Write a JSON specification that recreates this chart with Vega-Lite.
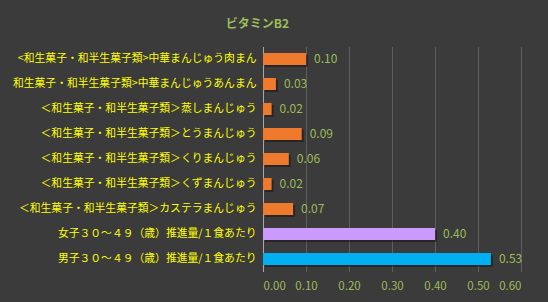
{
  "$schema": "https://vega.github.io/schema/vega-lite/v6.json",
  "width": 258,
  "height": 225,
  "autosize": {"type": "none"},
  "padding": {"left": 263, "top": 46.5, "right": 27, "bottom": 30.5},
  "background": "#3b3b3b",
  "title": {
    "text": "ビタミンB2",
    "color": "#9bbb59",
    "fontSize": 12,
    "font": "Noto Sans CJK JP",
    "fontWeight": "bold",
    "anchor": "middle",
    "frame": "bounds",
    "offset": 16,
    "dx": -10
  },
  "data": {
    "values": [
      {"label": "<和生菓子・和半生菓子類>中華まんじゅう肉まん", "value": 0.10, "group": "food"},
      {"label": "和生菓子・和半生菓子類>中華まんじゅうあんまん", "value": 0.03, "group": "food"},
      {"label": "＜和生菓子・和半生菓子類＞蒸しまんじゅう", "value": 0.02, "group": "food"},
      {"label": "＜和生菓子・和半生菓子類＞とうまんじゅう", "value": 0.09, "group": "food"},
      {"label": "＜和生菓子・和半生菓子類＞くりまんじゅう", "value": 0.06, "group": "food"},
      {"label": "＜和生菓子・和半生菓子類＞くずまんじゅう", "value": 0.02, "group": "food"},
      {"label": "＜和生菓子・和半生菓子類＞カステラまんじゅう", "value": 0.07, "group": "food"},
      {"label": "女子３０～４９（歳）推進量/１食あたり", "value": 0.40, "group": "female"},
      {"label": "男子３０～４９（歳）推進量/１食あたり", "value": 0.53, "group": "male"}
    ]
  },
  "encoding": {
    "y": {
      "field": "label",
      "type": "nominal",
      "sort": null,
      "scale": {"paddingInner": 0.52, "paddingOuter": 0.26},
      "axis": {
        "title": null,
        "labelColor": "#ffff00",
        "labelFont": "Noto Sans CJK JP",
        "labelFontSize": 10.8,
        "labelLimit": 0,
        "labelPadding": 7,
        "ticks": false,
        "domainColor": "#a6a6a6",
        "domainWidth": 1,
        "grid": false
      }
    },
    "x": {
      "field": "value",
      "type": "quantitative",
      "scale": {"domain": [0, 0.6], "nice": false},
      "axis": {
        "title": null,
        "values": [0, 0.1, 0.2, 0.3, 0.4, 0.5, 0.6],
        "format": ".2f",
        "labelColor": "#9bbb59",
        "labelFont": "Noto Sans CJK JP",
        "labelFontSize": 11.5,
        "labelPadding": 9,
        "domain": false,
        "ticks": false,
        "grid": true,
        "gridColor": "#5e5e5e",
        "gridWidth": 1
      }
    }
  },
  "layer": [
    {
      "mark": {"type": "bar", "color": "#000000", "opacity": 0.35, "xOffset": 2, "x2Offset": 2, "yOffset": 2, "y2Offset": 2},
      "encoding": {}
    },
    {
      "mark": {"type": "bar"},
      "encoding": {
        "color": {
          "field": "group",
          "type": "nominal",
          "scale": {"domain": ["food", "female", "male"], "range": ["#ef7a2e", "#cc99ff", "#00b0f0"]},
          "legend": null
        }
      }
    },
    {
      "mark": {"type": "text", "align": "left", "dx": 8, "color": "#9bbb59", "font": "Noto Sans CJK JP", "fontSize": 12},
      "encoding": {
        "text": {"field": "value", "type": "quantitative", "format": ".2f"}
      }
    }
  ],
  "config": {
    "view": {"stroke": null}
  }
}
